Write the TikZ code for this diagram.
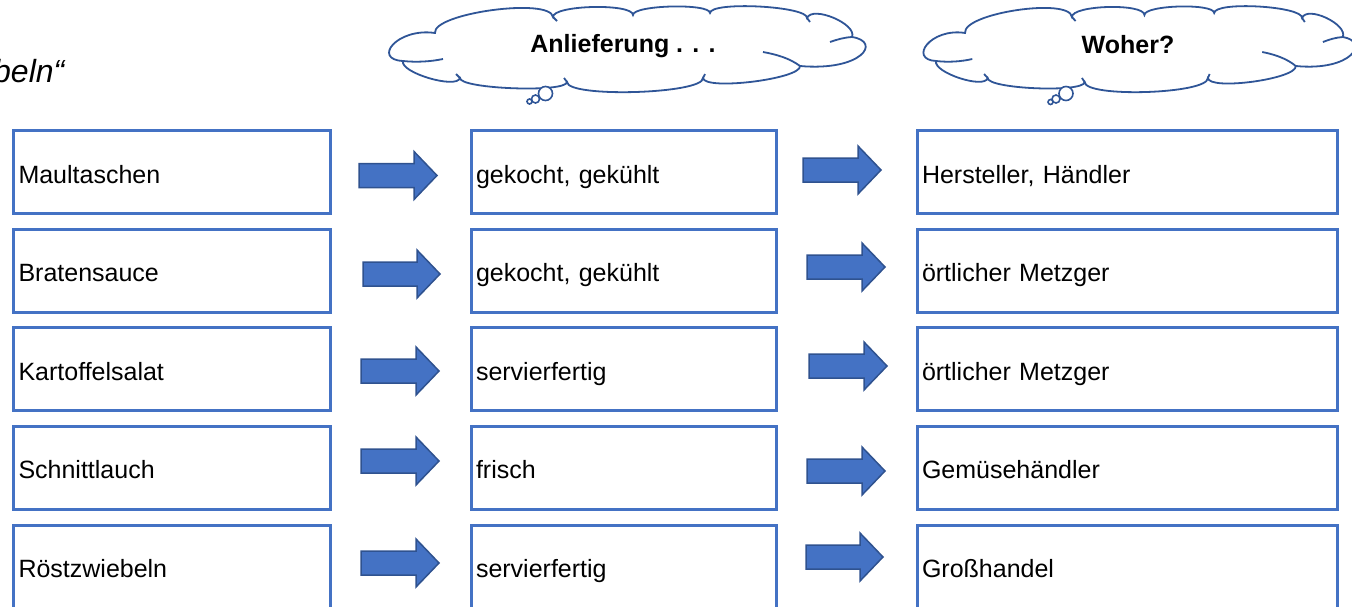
\documentclass[tikz,border=0pt]{standalone}
\usepackage{fontspec}
\setmainfont{Liberation Sans}
\usetikzlibrary{calc}
\definecolor{boxblue}{HTML}{4472C4}
\definecolor{arrline}{HTML}{2F528F}
\definecolor{cloudline}{HTML}{2F5597}
\newcommand{\blkarrow}[3]{%
  \draw[blkarr] (#1,{#3-12}) -- ({#2-23},{#3-12}) -- ({#2-23},{#3-24}) -- (#2,#3)
    -- ({#2-23},{#3+24}) -- ({#2-23},{#3+12}) -- (#1,{#3+12}) -- cycle;}
\newcommand{\lobe}[3]{.. controls ($(#1)!#3pt!90:(#2)$) and ($(#2)!#3pt!-90:(#1)$) .. (#2)}
\newcommand{\cloudbody}[1]{%
  \coordinate (#1j1) at (-192,-16.5);
  \coordinate (#1j2) at (-74,-32.5);
  \coordinate (#1j3) at (6,-34.5);
  \coordinate (#1j4) at (83,-36.5);
  \coordinate (#1j5) at (180,-31.5);
  \coordinate (#1j6) at (225,-12.5);
  \coordinate (#1j7) at (173,16.5);
  \coordinate (#1j8) at (76,28.5);
  \coordinate (#1j9) at (-60,32.5);
  \coordinate (#1j10) at (-167,28.5);
  \coordinate (#1j11) at (-224,11.5);
  \draw[cloudst] (#1j1) \lobe{#1j1}{#1j2}{20} \lobe{#1j2}{#1j3}{12}
    \lobe{#1j3}{#1j4}{10} \lobe{#1j4}{#1j5}{12} \lobe{#1j5}{#1j6}{14}
    .. controls (255,-8) and (235,22) .. (#1j7)
    \lobe{#1j7}{#1j8}{13} \lobe{#1j8}{#1j9}{16} \lobe{#1j9}{#1j10}{11}
    \lobe{#1j10}{#1j11}{12}
    .. controls (-255,10) and (-230,-22) .. (#1j1) -- cycle;
  % inner strokes of the cloud
  \draw[cloudin] (#1j11) .. controls (-210,13) and (-196,12) .. (-184,9.5);
  \draw[cloudin] (136,2.5) .. controls (150,5) and (163,9) .. (#1j7);
  \draw[cloudin] (203,-7.5) .. controls (210,-10) and (217,-12) .. (#1j6);
  \draw[cloudin] (#1j2) -- (-70,-28.5);
  \draw[cloudin] (#1j5) -- (183,-27.5);
  \draw[cloudin] (#1j10) -- (-171,24.5);
  \draw[cloudin] (#1j9) -- (-63,28.5);
  \draw[cloudin] (#1j8) -- (78,24.5);
}
\tikzset{
  box/.style={draw=boxblue, line width=3pt, rectangle, minimum height=83pt,
    inner xsep=5pt, inner ysep=0pt, align=left, text height=24pt, text depth=2pt,
    font=\fontsize{25}{30}\selectfont},
  c1/.style={box, text width=306.5pt},
  c2/.style={box, text width=295pt},
  c3/.style={box, text width=410pt},
  blkarr/.style={fill=boxblue, draw=arrline, line width=1.5pt, line join=miter},
  cloudst/.style={draw=cloudline, line width=1.8pt, fill=white},
  cloudin/.style={draw=cloudline, line width=1.8pt},
  bub/.style={draw=cloudline, line width=1.6pt, fill=white},
  ctext/.style={font=\fontsize{25}{30}\selectfont\bfseries}
}
\begin{document}
\begin{tikzpicture}[x=1pt,y=-1pt]
\useasboundingbox (0,0) rectangle (1352,606);
\clip (0,0) rectangle (1352,606);
% title fragment
\node[anchor=base west, inner sep=0pt, font=\fontsize{32}{38}\selectfont\itshape] (title) at (-7,82) {beln“};
% clouds
\begin{scope}[shift={(627,49.5)}]
  \cloudbody{ca}
\end{scope}
\node[ctext] (cloudAtext) at (623,46) {Anlieferung . . .};
\draw[bub] (545.5,93.5) circle (7);
\draw[bub] (535.5,99) circle (4);
\draw[bub] (529.5,101.5) circle (2.5);
\begin{scope}[shift={(1139,49.5)}, xscale=0.906]
  \cloudbody{cb}
\end{scope}
\node[ctext] (cloudBtext) at (1128,45) {Woher?};
\draw[bub] (1066,93.5) circle (7);
\draw[bub] (1056,99) circle (4);
\draw[bub] (1050.5,102) circle (2.5);
% boxes
\foreach \r/\y/\a/\b/\c in {1/172/Maultaschen/{gekocht, gekühlt}/{Hersteller, Händler},
  2/270.5/Bratensauce/{gekocht, gekühlt}/örtlicher Metzger,
  3/369/Kartoffelsalat/servierfertig/örtlicher Metzger,
  4/467.5/Schnittlauch/frisch/Gemüsehändler,
  5/566.5/Röstzwiebeln/servierfertig/Großhandel}{
  \node[c1] (a\r) at (171.75,\y) {\a};
  \node[c2] (b\r) at (623.5,\y) {\b};
  \node[c3] (c\r) at (1127,\y) {\c};
}
% block arrows
\blkarrow{359}{437}{175.5}
\blkarrow{803}{881}{170}
\blkarrow{363}{440}{274}
\blkarrow{807}{885}{267}
\blkarrow{361}{439}{371}
\blkarrow{809}{887}{366}
\blkarrow{361}{439}{461}
\blkarrow{807}{885}{471}
\blkarrow{361}{439}{563}
\blkarrow{806}{883}{557}
\end{tikzpicture}
\end{document}
